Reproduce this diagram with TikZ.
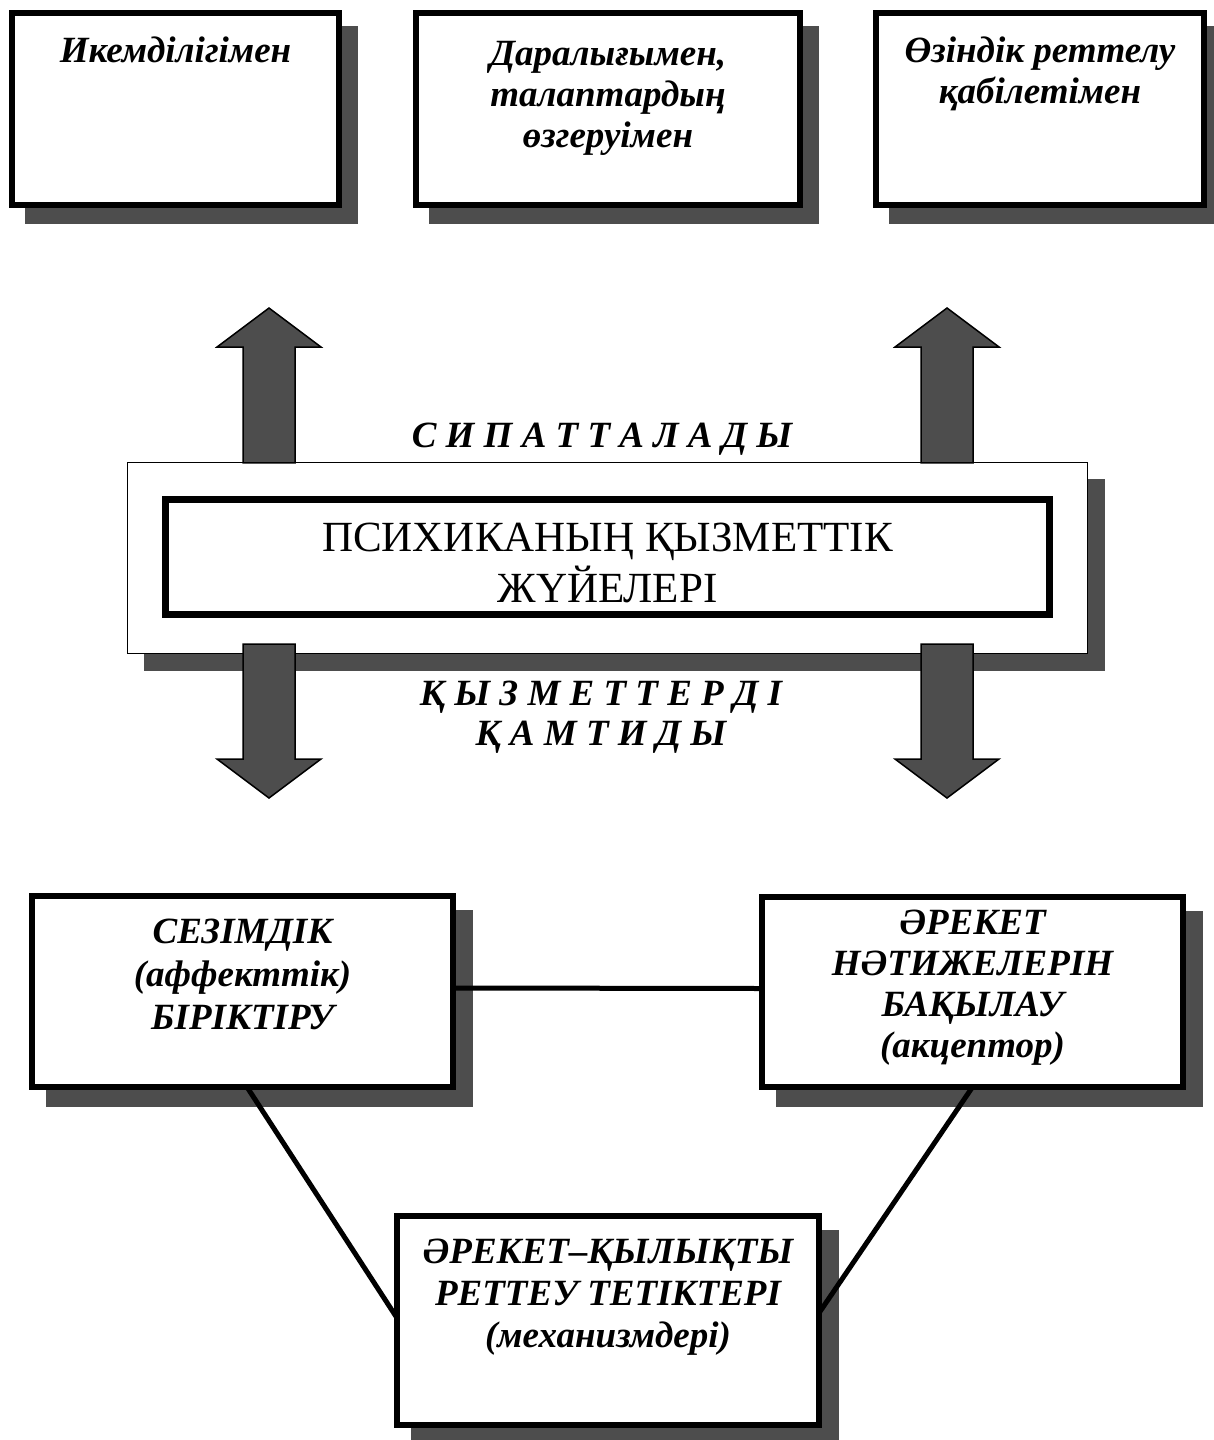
\documentclass[tikz,border=0pt]{standalone}
\usepackage{fontspec}
\setmainfont{Liberation Serif}
\usetikzlibrary{calc}
\pgfdeclarelayer{bg}
\pgfdeclarelayer{mid}
\pgfsetlayers{bg,mid,main}
\definecolor{shgray}{HTML}{4D4D4D}
\newcommand\boxshadow[3]{%
  \begin{pgfonlayer}{bg}
  \fill[shgray] ([shift={(#2-#3,#2+#3)}]#1.south west) rectangle ([shift={(#2+#3,#2-#3)}]#1.north east);
  \end{pgfonlayer}}
\begin{document}
\begin{tikzpicture}[x=1pt,y=-1pt,
  bx/.style={draw, line width=6pt, fill=white, rectangle, inner sep=0pt, outer sep=0pt},
  thinbx/.style={draw, line width=1.5pt, fill=white, rectangle, inner sep=0pt, outer sep=0pt},
  innerbx/.style={draw, line width=7pt, fill=white, rectangle, inner sep=0pt, outer sep=0pt},
  txt/.style={font=\fontsize{37}{#1}\selectfont\bfseries\itshape, align=center, inner sep=0pt, anchor=base},
  txt/.default=42,
  arr/.style={fill=shgray, draw=black, line width=1.5pt, line join=miter},
  link/.style={line width=5pt}]
\useasboundingbox (0,0) rectangle (1213,1440);

% top boxes
\node[bx, minimum width=327pt, minimum height=192pt] (b1) at (175.5,109) {};
\node[bx, minimum width=384pt, minimum height=192pt] (b2) at (608,109) {};
\node[bx, minimum width=328pt, minimum height=192pt] (b3) at (1040,109) {};
\boxshadow{b1}{16}{3}
\boxshadow{b2}{16}{3}
\boxshadow{b3}{16}{3}
% (anchor base = baseline of the last line)
\node[txt=41] (t1) at (175.5,62) {Икемділігімен};
\node[txt=41] (t2) at (608,147) {Даралығымен,\\талаптардың\\өзгеруімен};
\node[txt=41] (t3) at (1040,103) {Өзіндік реттелу\\қабілетімен};

% central block
\node[thinbx, minimum width=960pt, minimum height=191pt] (ob) at (607.5,558) {};
\boxshadow{ob}{17}{0.75}
\node[innerbx, minimum width=884pt, minimum height=115pt] (ib) at (607.5,557) {};
\node[font=\fontsize{43}{51}\selectfont, align=center, inner sep=0pt, anchor=base] (ct) at (607.5,602) {ПСИХИКАНЫҢ ҚЫЗМЕТТІК\\ЖҮЙЕЛЕРІ};

\node[txt=40] (sip) at (602,447) {С И П А Т Т А Л А Д Ы};
\node[txt=40] (kyz) at (601,745) {Қ Ы З М Е Т Т Е Р Д І\\Қ А М Т И Д Ы};

% block arrows
\draw[arr] (243,462.75) -- (243,347) -- (217,347) -- (269,308) -- (321,347) -- (295,347) -- (295,462.75) -- cycle;
\draw[arr] (921,462.75) -- (921,347) -- (895,347) -- (947,308) -- (999,347) -- (973,347) -- (973,462.75) -- cycle;
\draw[arr] (243,644) -- (295,644) -- (295,759) -- (321,759) -- (269,798) -- (217,759) -- (243,759) -- cycle;
\draw[arr] (921,644) -- (973,644) -- (973,759) -- (999,759) -- (947,798) -- (895,759) -- (921,759) -- cycle;

% bottom boxes
\node[bx, minimum width=421pt, minimum height=191pt] (bl) at (242.5,991.5) {};
\node[bx, minimum width=421pt, minimum height=190pt] (br) at (972.5,992) {};
\node[bx, minimum width=422pt, minimum height=209pt] (bm) at (608,1320.5) {};
\boxshadow{bl}{17}{3}
\boxshadow{br}{17}{3}
\boxshadow{bm}{17}{3}
\node[txt=43] (tl) at (242.5,1029) {СЕЗІМДІК\\(аффекттік)\\БІРІКТІРУ};
\node[txt=41] (tr) at (972.5,1057) {ӘРЕКЕТ\\НӘТИЖЕЛЕРІН\\БАҚЫЛАУ\\(акцептор)};
\node[txt=42] (tm) at (608,1347) {ӘРЕКЕТ–ҚЫЛЫҚТЫ\\РЕТТЕУ ТЕТІКТЕРІ\\(механизмдері)};

% connectors
\begin{pgfonlayer}{mid}
\draw[link] ([yshift=3.5pt]bl.east) -- ([yshift=3.5pt]br.west);
\draw[link] ([xshift=4.5pt]bl.south) -- ([yshift=2.5pt]bm.west);
\draw[link] (br.south) -- ([yshift=7.5pt]bm.east);
\end{pgfonlayer}
\end{tikzpicture}
\end{document}
